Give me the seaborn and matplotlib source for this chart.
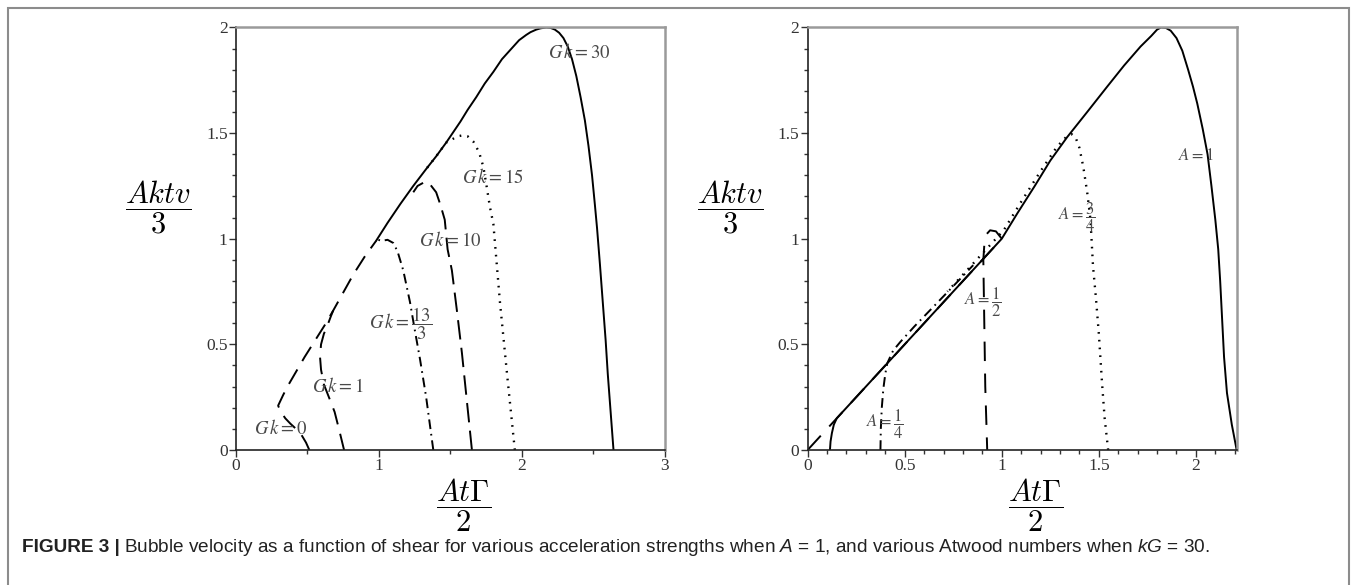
import matplotlib
matplotlib.use("Agg")
import matplotlib.pyplot as plt
import seaborn as sns
from matplotlib.patches import Rectangle
from matplotlib.ticker import MultipleLocator, FuncFormatter

sns.set_theme(style="white")
plt.rcParams['font.family'] = ['Liberation Serif', 'DejaVu Serif']
plt.rcParams['mathtext.fontset'] = 'custom'
plt.rcParams['mathtext.rm'] = 'Liberation Sans'
plt.rcParams['mathtext.it'] = 'Liberation Sans:italic'
plt.rcParams['mathtext.bf'] = 'Liberation Sans:bold'
plt.rcParams['lines.scale_dashes'] = False

# ---------------- left panel: A = 1, several Gk ----------------
# common upper envelope shared by the curves
left_env_x = [0.295, 0.33, 0.36, 0.42, 0.48, 0.55, 0.62, 0.68, 0.75, 0.82, 0.90, 0.98,
              1.06, 1.15, 1.24, 1.33, 1.40, 1.47, 1.57, 1.62, 1.68, 1.74, 1.80, 1.86,
              1.92, 1.98, 2.03, 2.06, 2.10, 2.13, 2.17]
left_env_y = [0.21, 0.26, 0.30, 0.37, 0.44, 0.515, 0.59, 0.66, 0.745, 0.83, 0.915, 0.99,
              1.075, 1.165, 1.25, 1.33, 1.39, 1.455, 1.555, 1.61, 1.67, 1.735, 1.79, 1.85,
              1.895, 1.94, 1.965, 1.978, 1.99, 1.996, 2.0]

gk30_x = [2.64, 2.62, 2.60, 2.585, 2.565, 2.545, 2.525, 2.51, 2.49, 2.465, 2.44, 2.41,
          2.38, 2.35, 2.32, 2.29, 2.26, 2.23, 2.20]
gk30_y = [0.0, 0.18, 0.36, 0.52, 0.70, 0.88, 1.05, 1.16, 1.30, 1.44, 1.56, 1.67,
          1.77, 1.85, 1.91, 1.95, 1.975, 1.99, 1.998]
gk15_x = [1.95, 1.90, 1.846, 1.80, 1.776, 1.75, 1.73, 1.70, 1.66, 1.62, 1.59, 1.55, 1.51]
gk15_y = [0.0, 0.33, 0.70, 1.07, 1.15, 1.26, 1.34, 1.41, 1.46, 1.485, 1.49, 1.485, 1.47]
gk10_x = [1.65, 1.615, 1.58, 1.545, 1.51, 1.48, 1.46, 1.43, 1.40, 1.36, 1.31, 1.27, 1.24]
gk10_y = [0.0, 0.23, 0.46, 0.66, 0.85, 0.95, 1.09, 1.16, 1.22, 1.255, 1.265, 1.25, 1.22]
gk13_x = [1.38, 1.33, 1.287, 1.25, 1.217, 1.17, 1.13, 1.10, 1.06, 1.02, 0.995]
gk13_y = [0.0, 0.25, 0.43, 0.57, 0.70, 0.85, 0.94, 0.98, 0.995, 0.99, 0.995]
gk1_x = [0.756, 0.72, 0.69, 0.65, 0.615, 0.595, 0.588, 0.595, 0.615, 0.64, 0.665, 0.68]
gk1_y = [0.0, 0.10, 0.18, 0.25, 0.31, 0.38, 0.44, 0.50, 0.55, 0.59, 0.635, 0.66]
gk0_x = [0.513, 0.49, 0.455, 0.42, 0.38, 0.345, 0.315, 0.298]
gk0_y = [0.0, 0.035, 0.075, 0.10, 0.125, 0.15, 0.18, 0.205]

left_labels = [r'$G\,k = 30$', r'$G\,k = 15$', r'$G\,k = 10$',
               r'$G\,k = \dfrac{13}{3}$', r'$G\,k = 1$', r'$G\,k = 0$']
left_label_x = [2.40, 1.80, 1.50, 1.15, 0.71, 0.31]
left_label_y = [1.88, 1.29, 0.99, 0.60, 0.30, 0.10]

# ---------------- right panel: kG = 30, several A ----------------
right_env_x = [0.15, 0.40, 0.70, 1.00, 1.08, 1.17, 1.25, 1.336, 1.44, 1.543, 1.63,
               1.715, 1.77, 1.80, 1.82]
right_env_y = [0.15, 0.40, 0.70, 1.00, 1.12, 1.25, 1.37, 1.48, 1.60, 1.72, 1.82,
               1.91, 1.96, 1.99, 2.00]
a1_foot_x = [0.115, 0.118, 0.125, 0.135]
a1_foot_y = [0.0, 0.04, 0.08, 0.12]
a1_fall_x = [1.845, 1.87, 1.90, 1.93, 1.96, 1.985, 2.007, 2.035, 2.06, 2.08, 2.10,
             2.115, 2.125, 2.135, 2.145, 2.16, 2.185, 2.21]
a1_fall_y = [1.998, 1.985, 1.95, 1.89, 1.80, 1.72, 1.64, 1.52, 1.40, 1.25, 1.09,
             0.95, 0.80, 0.62, 0.44, 0.27, 0.12, 0.0]
a34_x = [1.548, 1.53, 1.517, 1.50, 1.485, 1.47, 1.457, 1.44, 1.42, 1.40, 1.38, 1.36,
         1.33, 1.284, 1.20, 1.10, 1.01, 0.95, 0.85, 0.72]
a34_y = [0.0, 0.15, 0.31, 0.55, 0.72, 0.87, 1.09, 1.22, 1.34, 1.43, 1.48, 1.495,
         1.48, 1.435, 1.32, 1.175, 1.04, 0.98, 0.88, 0.75]
a12_x = [0.0, 0.5, 1.0, 0.97, 0.94, 0.92, 0.91, 0.905, 0.91, 0.915, 0.925]
a12_y = [0.0, 0.5, 1.0, 1.035, 1.04, 1.02, 0.97, 0.90, 0.60, 0.30, 0.0]
a14_x = [0.375, 0.377, 0.382, 0.39, 0.40, 0.41, 0.44, 0.476, 0.55, 0.65, 0.786, 0.853]
a14_y = [0.0, 0.10, 0.20, 0.29, 0.36, 0.41, 0.47, 0.51, 0.585, 0.68, 0.81, 0.875]

right_labels = [r'$A = 1$', r'$A = \dfrac{3}{4}$', r'$A = \dfrac{1}{2}$', r'$A = \dfrac{1}{4}$']
right_label_x = [2.00, 1.385, 0.90, 0.395]
right_label_y = [1.39, 1.10, 0.70, 0.12]

# line styles (points)
SOLID = '-'
DOT = (0, (1.2, 4.4))
DASH = (0, (14, 6))
LONGDASH = (0, (12, 7))
DASHDOT = (0, (7, 3.5, 1.2, 3.5))


def env_part(ex, ey, lo, hi, reverse=False):
    pts = [(a, b) for a, b in zip(ex, ey) if lo <= a <= hi]
    if reverse:
        pts = pts[::-1]
    return [p[0] for p in pts], [p[1] for p in pts]


def draw(ax, xs, ys, ls, lw=1.3):
    sns.lineplot(x=xs, y=ys, ax=ax, sort=False, estimator=None,
                 color='black', linewidth=lw, linestyle=ls)


fig = plt.figure(figsize=(13.56, 5.85), dpi=100)
axL = fig.add_axes([0.1740, 0.2308, 0.3164, 0.7222])
axR = fig.add_axes([0.5956, 0.2308, 0.3164, 0.7222])

# left curves
ex, ey = env_part(left_env_x, left_env_y, 0.97, 2.17, reverse=True)
draw(axL, gk30_x + ex, gk30_y + ey, SOLID, 1.4)
ex, ey = env_part(left_env_x, left_env_y, 1.33, 1.47, reverse=True)
draw(axL, gk15_x + ex, gk15_y + ey, DOT, 1.7)
draw(axL, gk10_x, gk10_y, DASH, 1.4)
draw(axL, gk13_x, gk13_y, DASHDOT, 1.4)
draw(axL, gk1_x, gk1_y, LONGDASH, 1.4)
ex, ey = env_part(left_env_x, left_env_y, 0.29, 0.99)
draw(axL, gk0_x + ex, gk0_y + ey, LONGDASH, 1.4)

# right curves
ex, ey = env_part(right_env_x, right_env_y, 0.0, 2.0)
draw(axR, a1_foot_x + ex + a1_fall_x, a1_foot_y + ey + a1_fall_y, SOLID, 1.4)
draw(axR, a34_x, a34_y, DOT, 1.7)
draw(axR, a12_x, a12_y, (0, (14, 9)), 1.4)
draw(axR, a14_x, a14_y, DASHDOT, 1.4)

for t, x, y in zip(left_labels, left_label_x, left_label_y):
    axL.text(x, y, t, ha='center', va='center', fontsize=13.5, color='#4a4a4a',
             math_fontfamily='stix')
for t, x, y in zip(right_labels, right_label_x, right_label_y):
    axR.text(x, y, t, ha='center', va='center', fontsize=12, color='#4a4a4a',
             math_fontfamily='stix')

for ax, xmax, xmaj, xmin in [(axL, 3.0, 1.0, 0.5), (axR, 2.21, 0.5, 0.1)]:
    ax.set_xlim(0, xmax)
    ax.set_ylim(0, 2.0)
    ax.xaxis.set_major_locator(MultipleLocator(xmaj))
    ax.xaxis.set_minor_locator(MultipleLocator(xmin))
    ax.yaxis.set_major_locator(MultipleLocator(0.5))
    ax.yaxis.set_minor_locator(MultipleLocator(0.1))
    ax.xaxis.set_major_formatter(FuncFormatter(lambda v, p: f'{v:g}'))
    ax.yaxis.set_major_formatter(FuncFormatter(lambda v, p: f'{v:g}'))
    ax.tick_params(which='major', direction='out', length=5, width=1, color='#333333',
                   labelsize=12.5, labelcolor='#333333', pad=1,
                   bottom=True, left=True, top=False, right=False)
    ax.tick_params(which='minor', direction='out', length=3, width=1, color='#333333',
                   bottom=True, left=True, top=False, right=False)
    for side in ['left', 'bottom']:
        ax.spines[side].set_color('#222222')
        ax.spines[side].set_linewidth(1.2)
    for side in ['top', 'right']:
        ax.spines[side].set_color('#9a9a9a')
        ax.spines[side].set_linewidth(1.8)
    ax.set_xlabel('')
    ax.set_ylabel('')
    ax.text(0.53, -0.13, r'$\dfrac{At\Gamma}{2}$', transform=ax.transAxes,
            ha='center', va='center', fontsize=22, math_fontfamily='cm', color='black')
    ax.text(-0.18, 0.575, r'$\dfrac{Aktv}{3}$', transform=ax.transAxes,
            ha='center', va='center', fontsize=22, math_fontfamily='cm', color='black')

# frame around the whole figure
fig.patches.append(Rectangle((8 / 1356, -0.02), 1341 / 1356, 1.02 - 8 / 585,
                             transform=fig.transFigure, fill=False,
                             edgecolor='#8c8c8c', linewidth=1.5))

# caption
cap_y = 1 - 548 / 585
fig.canvas.draw()
r = fig.canvas.get_renderer()
t1 = fig.text(22 / 1356, cap_y, 'FIGURE 3 |', fontsize=13.7, fontweight='bold',
              family=['Liberation Sans', 'DejaVu Sans'], va='center', ha='left', color='#222222')
bb = t1.get_window_extent(renderer=r)
fig.text(bb.x1 / fig.bbox.width + 4 / 1356, cap_y,
         'Bubble velocity as a function of shear for various acceleration strengths when '
         '$A$ = 1, and various Atwood numbers when $kG$ = 30.',
         fontsize=13.7, family=['Liberation Sans', 'DejaVu Sans'], va='center', ha='left',
         color='#222222', math_fontfamily='custom')

fig.savefig('out.png', dpi=100)
